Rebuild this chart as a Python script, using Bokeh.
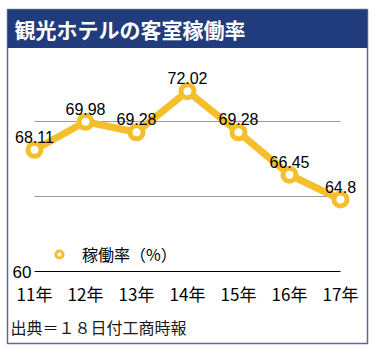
from bokeh.plotting import figure
from bokeh.models import (Range1d, FixedTicker, BoxAnnotation, Label, Legend, LegendItem,
                          ColumnDataSource)
from bokeh.core.properties import value
from bokeh.embed import file_html
from bokeh.resources import INLINE

# ---- data ----
years = ["11年", "12年", "13年", "14年", "15年", "16年", "17年"]
rates = [68.11, 69.98, 69.28, 72.02, 69.28, 66.45, 64.8]
grid_ticks = [65, 70]
axis_ticks = [60]
title_text = "観光ホテルの客室稼働率"
series_name = "稼働率（%）"
source_text = "出典＝１８日付工商時報"

GOLD = "#f5bf2c"
NAVY = "#213c7c"
BORDER = "#5b6b88"
JP = "Noto Sans CJK JP"
NUM = "Liberation Sans"

xs = list(range(len(years)))
src = ColumnDataSource(dict(x=xs, y=rates, lab=[str(v) for v in rates]))

# ---- layout (pixels) ----
W, H = 376, 350
FL, FR, FT, FB = 7, 367, 9, 343      # frame = bordered box
X0PX, XSTEP = 34.0, 51.0             # pixel of first category, pixels per category
Y60PX, YPX = 271.0, 15.0             # pixel of value 60, pixels per unit
BASE = axis_ticks[0]


def dx(px):
    return (px - X0PX) / XSTEP


def dy(py):
    return BASE + (Y60PX - py) / YPX


p = figure(width=W, height=H, output_backend="svg", toolbar_location=None,
           min_border_left=FL, min_border_right=W - FR,
           min_border_top=FT, min_border_bottom=H - FB,
           x_range=Range1d(dx(FL), dx(FR)),
           y_range=Range1d(dy(FB), dy(FT)))
p.outline_line_color = BORDER
p.outline_line_width = 1.5
p.background_fill_color = "white"
p.border_fill_color = "white"

# title bar (inside frame, top)
p.add_layout(BoxAnnotation(bottom=dy(47.5), fill_color=NAVY, fill_alpha=1,
                           line_color=None, level="underlay"))

# axes (drawn inside the frame at fixed locations)
xa = p.xaxis[0]
xa.fixed_location = BASE
xa.ticker = FixedTicker(ticks=xs)
xa.major_label_overrides = {i: t for i, t in enumerate(years)}
xa.bounds = (0, len(years) - 1)
xa.axis_line_color = "black"
xa.axis_line_width = 1
xa.major_tick_line_color = None
xa.minor_tick_line_color = None
xa.major_label_standoff = 3
xa.major_label_text_font = JP
xa.major_label_text_font_size = "17px"
xa.major_label_text_color = "black"

ya = p.yaxis[0]
ya.fixed_location = 0
ya.ticker = FixedTicker(ticks=axis_ticks)
ya.axis_line_color = None
ya.major_tick_line_color = None
ya.minor_tick_line_color = None
ya.major_tick_out = 0
ya.major_label_standoff = 3
ya.major_label_text_font = NUM
ya.major_label_text_font_size = "17px"
ya.major_label_text_color = "black"

p.xgrid.visible = False
p.ygrid.ticker = FixedTicker(ticks=grid_ticks)
p.ygrid.grid_line_color = "#9a9a9a"
p.ygrid.grid_line_width = 1
p.ygrid.cross_bounds = (0, len(years) - 1)

p.add_layout(Label(x=dx(14), y=dy(28.5), text=title_text,
                   text_color="white", text_font=JP, text_font_style="bold",
                   text_font_size="21px", text_baseline="middle"))
p.add_layout(Label(x=dx(10), y=dy(326), text=source_text,
                   text_color="#1a1a1a", text_font=JP,
                   text_font_size="16px", text_baseline="middle"))

# series
p.line("x", "y", source=src, line_color=GOLD, line_width=7)
p.scatter("x", "y", source=src, size=13, fill_color="white", line_color=GOLD, line_width=5)
p.text("x", "y", text="lab", source=src, y_offset=-13, text_align="center",
       text_baseline="alphabetic", text_font=value(NUM), text_font_size="16px",
       text_color="black")

leg_r = p.scatter("x", "y", source=src, size=7, fill_color="white", line_color=GOLD,
                  line_width=3, visible=False)
legend = Legend(items=[LegendItem(label=series_name, renderers=[leg_r])],
                location=(43, 77), orientation="horizontal",
                glyph_width=18, glyph_height=18, label_height=18, label_standoff=14,
                padding=0, margin=0, spacing=0, border_line_color=None,
                background_fill_alpha=0, label_text_font=JP,
                label_text_font_size="16px", label_text_color="black")
p.add_layout(legend, "center")

open("out.html", "w").write(file_html(p, INLINE))
